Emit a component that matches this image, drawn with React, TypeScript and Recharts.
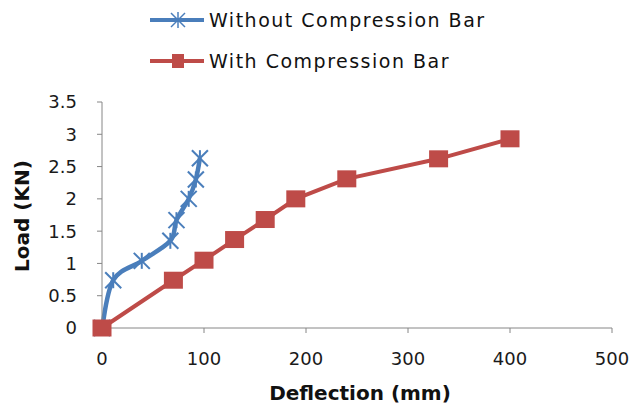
import { LineChart, Line, XAxis, YAxis } from 'recharts';

// deflection (mm) vs load (KN)
const withoutDeflection = [0, 11, 39, 67, 73, 85, 92, 96];
const withoutLoad = [0, 0.74, 1.04, 1.35, 1.67, 2.0, 2.3, 2.63];

const withDeflection = [0, 70, 100, 130, 160, 190, 240, 330, 400];
const withLoad = [0, 0.74, 1.05, 1.37, 1.68, 2.0, 2.31, 2.62, 2.93];

const xTicks = [0, 100, 200, 300, 400, 500];
const yTicks = [0, 0.5, 1, 1.5, 2, 2.5, 3, 3.5];

const seriesNames = ['Without Compression Bar', 'With Compression Bar'];

const BLUE = '#4a7ebb';
const RED = '#be4b48';
const AXIS = '#868686';
const FONT = '"DejaVu Sans", sans-serif';

const withoutRows = withoutDeflection.map((x, i) => ({ x, y: withoutLoad[i] }));
const withRows = withDeflection.map((x, i) => ({ x, y: withLoad[i] }));

// Excel-style smoothed line (Catmull-Rom through the points)
function smoothCurve(context: any) {
  let pts: number[][] = [];
  return {
    areaStart() {},
    areaEnd() {},
    lineStart() {
      pts = [];
    },
    point(x: number, y: number) {
      pts.push([+x, +y]);
    },
    lineEnd() {
      const n = pts.length;
      if (!n) return;
      context.moveTo(pts[0][0], pts[0][1]);
      for (let i = 0; i < n - 1; i++) {
        const p0 = pts[Math.max(i - 1, 0)];
        const p1 = pts[i];
        const p2 = pts[i + 1];
        const p3 = pts[Math.min(i + 2, n - 1)];
        context.bezierCurveTo(
          p1[0] + (p2[0] - p0[0]) / 6,
          p1[1] + (p2[1] - p0[1]) / 6,
          p2[0] - (p3[0] - p1[0]) / 6,
          p2[1] - (p3[1] - p1[1]) / 6,
          p2[0],
          p2[1]
        );
      }
    },
  };
}

function StarDot(props: any) {
  const { cx, cy, index } = props;
  if (cx == null || cy == null) return null;
  const r = 8;
  return (
    <g key={`star-${index}`} stroke={BLUE} strokeWidth={2}>
      <line x1={cx - r} y1={cy - r} x2={cx + r} y2={cy + r} />
      <line x1={cx - r} y1={cy + r} x2={cx + r} y2={cy - r} />
      <line x1={cx} y1={cy - r} x2={cx} y2={cy + r} />
    </g>
  );
}

function SquareDot(props: any) {
  const { cx, cy, index } = props;
  if (cx == null || cy == null) return null;
  return <rect key={`sq-${index}`} x={cx - 9.5} y={cy - 8.5} width={19} height={17} fill={RED} />;
}

function YTitle() {
  return (
    <text
      x={22}
      y={216}
      transform="rotate(-90 22 216)"
      textAnchor="middle"
      dominantBaseline="central"
      fontFamily={FONT}
      fontWeight="bold"
      fontSize={20}
      fill="#111"
    >
      Load (KN)
    </text>
  );
}

function ChartLegend() {
  return (
    <svg width={400} height={80} style={{ position: 'absolute', left: 140, top: 0 }}>
      {/* blue entry */}
      <line x1={10} y1={20} x2={64} y2={20} stroke={BLUE} strokeWidth={4} />
      <g stroke={BLUE} strokeWidth={1.5}>
        <line x1={31} y1={13} x2={45} y2={27} />
        <line x1={31} y1={27} x2={45} y2={13} />
        <line x1={38} y1={12} x2={38} y2={28} />
      </g>
      <text x={69} y={27} fontFamily={FONT} fontSize={19} letterSpacing={1.5} fill="#111">
        {seriesNames[0]}
      </text>
      {/* red entry */}
      <line x1={10} y1={61} x2={64} y2={61} stroke={RED} strokeWidth={4} />
      <rect x={32} y={54} width={12} height={14} fill={RED} />
      <text x={69} y={68} fontFamily={FONT} fontSize={19} letterSpacing={1.5} fill="#111">
        {seriesNames[1]}
      </text>
    </svg>
  );
}

export default function App() {
  const tickStyle = { fontFamily: FONT, fontSize: 18, fill: '#1a1a1a' };
  return (
    <div style={{ position: 'relative', width: 634, height: 405, background: '#fff' }}>
      <style>{'body{margin:0}'}</style>
      <LineChart width={634} height={405} margin={{ top: 102, right: 22, bottom: 0, left: 0 }}>
        <XAxis
          type="number"
          dataKey="x"
          domain={[0, 500]}
          ticks={xTicks}
          height={77}
          stroke={AXIS}
          tickSize={5}
          tickMargin={19}
          tick={tickStyle}
          label={{
            value: 'Deflection (mm)',
            position: 'insideBottom',
            offset: 5,
            dx: 3,
            style: { fontFamily: FONT, fontWeight: 'bold', fontSize: 20, fill: '#111' },
          }}
        />
        <YAxis
          type="number"
          domain={[0, 3.5]}
          ticks={yTicks}
          width={102}
          stroke={AXIS}
          tickSize={5}
          tickMargin={20}
          tick={tickStyle}
          label={<YTitle />}
        />
        <Line
          data={withoutRows}
          dataKey="y"
          name={seriesNames[0]}
          type={smoothCurve as any}
          stroke={BLUE}
          strokeWidth={4.5}
          dot={<StarDot />}
          isAnimationActive={false}
        />
        <Line
          data={withRows}
          dataKey="y"
          name={seriesNames[1]}
          type="linear"
          stroke={RED}
          strokeWidth={4}
          dot={<SquareDot />}
          isAnimationActive={false}
        />
      </LineChart>
      <ChartLegend />
    </div>
  );
}
